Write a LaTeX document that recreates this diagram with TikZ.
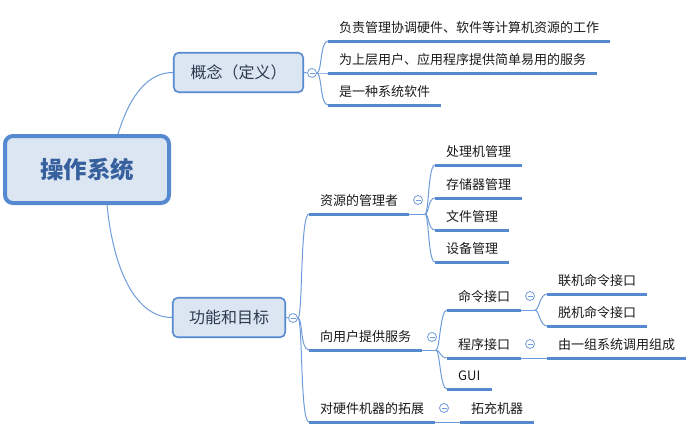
\documentclass[tikz,border=0pt]{standalone}
\usepackage{fontspec}
\setmainfont{Noto Sans CJK SC}
\definecolor{boxfill}{HTML}{DCE6F2}
\definecolor{boxline}{HTML}{558AD0}
\definecolor{linec}{HTML}{6E9BDA}
\definecolor{rootText}{HTML}{36609E}
\definecolor{topicText}{HTML}{2B3A4F}
\definecolor{leafText}{HTML}{1A1A1A}
\begin{document}
\begin{tikzpicture}[x=1pt, y=-1pt,
  every node/.style={font=\fontsize{13}{15}\selectfont, text=leafText},
  rootbox/.style={draw=boxline, fill=boxfill, line width=4pt, rounded corners=8pt,
    minimum width=164pt, minimum height=67pt, text=rootText,
    font=\fontsize{23.5}{27}\selectfont\bfseries},
  topic/.style={draw=boxline, fill=boxfill, line width=1.6pt, rounded corners=5pt,
    minimum height=39.5pt, text=topicText, font=\fontsize{16}{19}\selectfont},
  leaf/.style={anchor=south west, inner xsep=11pt, inner ysep=6pt, text height=10pt, text depth=2pt},
  conn/.style={draw=linec, line width=1pt},
  uline/.style={draw=boxline, line width=3pt},
  foldbtn/.style={circle, draw=linec, fill=white, line width=0.8pt, minimum size=9pt, inner sep=0pt,
    path picture={\draw[linec, line width=0.8pt]
      ([xshift=-2.5pt]path picture bounding box.center) -- ([xshift=2.5pt]path picture bounding box.center);}}
]
\useasboundingbox (0,0) rectangle (694,434);

% Central topic
\node[rootbox] (root) at (87,169.5) {操作系统};

% Main topics
\node[topic, minimum width=129.5pt] (gn) at (238.5,72.5) {概念（定义）};
\node[topic, minimum width=112.5pt] (gm) at (229,317.5) {功能和目标};

\draw[conn] ([xshift=31pt]root.north) .. controls (130,95) and (148,72.5) .. (gn.west);
\draw[conn] ([xshift=20pt]root.south) .. controls (114,275) and (138,317.5) .. (gm.west);

% Concept - leaves
\node[foldbtn] (gnc) at (312,73) {};
\node[leaf] (l11) at (328,41) {负责管理协调硬件、软件等计算机资源的工作};
\node[leaf] (l12) at (328,73) {为上层用户、应用程序提供简单易用的服务};
\node[leaf] (l13) at (328,105) {是一种系统软件};

\draw[conn] (gn.east) -- (gnc.west);
\foreach \n in {l11,l12,l13}
  \draw[conn] (gnc.east) .. controls +(5,0) and +(-8,0) .. (\n.south west);

% Functions - subtopics
\node[foldbtn] (gmc) at (293,318) {};
\node[leaf] (s1) at (309,214) {资源的管理者};
\node[leaf] (s2) at (309,350) {向用户提供服务};
\node[leaf] (s3) at (309,422) {对硬件机器的拓展};

\draw[conn] (gm.east) -- (gmc.west);
\foreach \n in {s1,s2,s3}
  \draw[conn] (gmc.east) .. controls +(5,0) and +(-9,0) .. (\n.south west);

% Resource manager
\node[foldbtn] (s1c) at (418,200) {};
\coordinate (s1j) at (425,214);
\node[leaf] (r1) at (435,165) {处理机管理};
\node[leaf] (r2) at (435,198) {存储器管理};
\node[leaf] (r3) at (435,230) {文件管理};
\node[leaf] (r4) at (435,262) {设备管理};

\draw[conn] (s1.south east) -- (s1j);
\foreach \n in {r1,r2,r3,r4}
  \draw[conn] (s1j) .. controls +(4,0) and +(-7,0) .. (\n.south west);

% User services
\node[foldbtn] (s2c) at (432,337) {};
\coordinate (s2j) at (436,350);
\node[leaf] (c1) at (447,310) {命令接口};
\node[leaf] (c2) at (447,358) {程序接口};
\node[leaf] (c3) at (447,389) {GUI};

\draw[conn] (s2.south east) -- (s2j);
\foreach \n in {c1,c2,c3}
  \draw[conn] (s2j) .. controls +(4,0) and +(-7,0) .. (\n.south west);

% Command interface
\node[foldbtn] (c1c) at (530,296) {};
\coordinate (c1j) at (535,310);
\node[leaf] (d1) at (547,294) {联机命令接口};
\node[leaf] (d2) at (547,326) {脱机命令接口};

\draw[conn] (c1.south east) -- (c1j);
\foreach \n in {d1,d2}
  \draw[conn] (c1j) .. controls +(4,0) and +(-7,0) .. (\n.south west);

% Program interface
\node[foldbtn] (c2c) at (530,344) {};
\node[leaf] (d3) at (547,358) {由一组系统调用组成};
\draw[conn] (c2.south east) -- (d3.south west);

% Hardware extension
\node[foldbtn] (s3c) at (444,408) {};
\node[leaf] (e1) at (460,422) {拓充机器};
\draw[conn] (s3.south east) -- (e1.south west);

% Underlines
\foreach \n in {l11,l12,l13,s1,s2,s3,r1,r2,r3,r4,c1,c2,c3,d1,d2,d3,e1}
  \draw[uline] (\n.south west) -- (\n.south east);

\end{tikzpicture}
\end{document}
